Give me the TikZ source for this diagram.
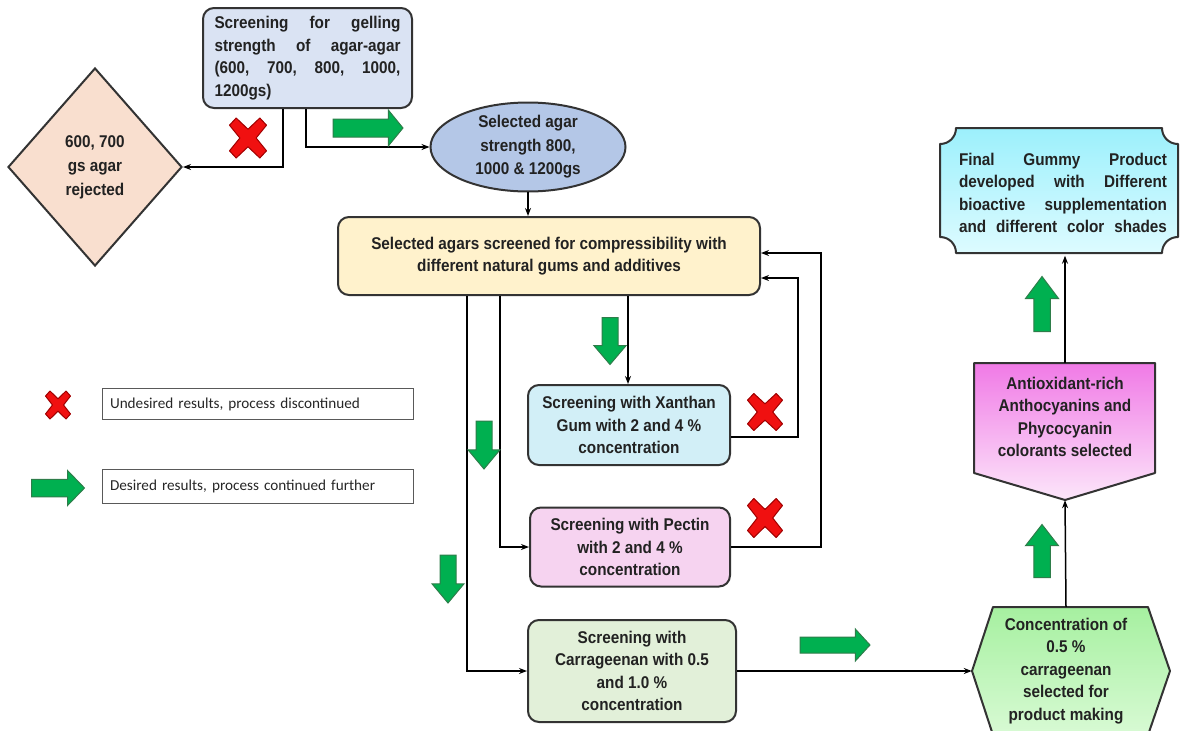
\documentclass[tikz,border=0pt]{standalone}
\usepackage{fontspec}
\setmainfont{Liberation Sans}
\newfontfamily\nar[FakeStretch=0.9]{Liberation Sans}
\newfontfamily\legfont{Carlito}
\usetikzlibrary{shapes.geometric,arrows.meta,calc}

\definecolor{bord}{HTML}{333333}
\definecolor{txt}{HTML}{222222}
\definecolor{topblue}{HTML}{DAE3F3}
\definecolor{peach}{HTML}{F9DFCF}
\definecolor{ellblue}{HTML}{B4C7E7}
\definecolor{cream}{HTML}{FFF2CC}
\definecolor{xanth}{HTML}{D2EFF7}
\definecolor{pect}{HTML}{F6D3F0}
\definecolor{carr}{HTML}{E2F0D9}
\definecolor{ggreen}{HTML}{00B050}
\definecolor{gdark}{HTML}{2E7D4A}
\definecolor{xred}{HTML}{F01010}
\definecolor{xdark}{HTML}{A00000}
\definecolor{finA}{HTML}{9CF0FC}
\definecolor{finB}{HTML}{DDFBFF}
\definecolor{penA}{HTML}{F07AE6}
\definecolor{penB}{HTML}{FCE6FA}
\definecolor{hexA}{HTML}{A6F0A0}
\definecolor{hexB}{HTML}{D8FAD4}

\tikzset{
  bfont/.style={font=\nar\bfseries\fontsize{17}{22.5}\selectfont, text=txt},
  box/.style={bfont, draw=bord, line width=2pt, rounded corners=11pt, align=center, inner sep=0pt},
  conn/.style={line width=1.5pt, -{Stealth[length=8pt,width=6pt]}},
  shp/.style={draw=bord, line width=2pt, line join=round},
  legbox/.style={draw=black!65, line width=1pt, minimum width=311pt, inner sep=0pt,
     font=\legfont\fontsize{15.2}{17}\selectfont, text=black!85, text width=295pt, align=left},
  pics/garr/.style={code={\draw[fill=ggreen, draw=gdark, line width=1pt]
     (-.5,-.25) -- (#1,-.25) -- (#1,-.5) -- (.5,0) -- (#1,.5) -- (#1,.25) -- (-.5,.25) -- cycle;}},
  pics/redx/.style={code={\draw[fill=xred, draw=xdark, line width=1pt, line join=round]
     (-.5,-.32) -- (-.32,-.5) -- (0,-.22) -- (.32,-.5) -- (.5,-.32) -- (.22,0) -- (.5,.32) -- (.32,.5)
     -- (0,.22) -- (-.32,.5) -- (-.5,.32) -- (-.22,0) -- cycle;}},
}

\begin{document}
\begin{tikzpicture}[x=1pt,y=-1pt]
\useasboundingbox (0,0) rectangle (1184,731);
\clip (0,0) rectangle (1184,731);

% ---- special shapes ----
\draw[shp, top color=finA, bottom color=finB]
  (956,128) -- (1162,128) .. controls (1162,137) and (1169,144) .. (1178,144)
  -- (1178,237) .. controls (1169,237) and (1162,244) .. (1162,253)
  -- (956,253) .. controls (956,244) and (949,237) .. (940,237)
  -- (940,144) .. controls (949,144) and (956,137) .. (956,128) -- cycle;
\draw[shp, top color=penA, bottom color=penB]
  (974,363) -- (1155,363) -- (1155,473) -- (1065,500) -- (974,473) -- cycle;
\draw[shp, top color=hexA, bottom color=hexB]
  (972,671) -- (993,607) -- (1148,607) -- (1170,671) -- (1148,735) -- (993,735) -- cycle;

% ---- nodes ----
\node[box, fill=topblue, minimum width=209pt, minimum height=100pt, align=left] (top) at (307.5,58)
  {\makebox[186pt][s]{Screening for gelling}\\
   \makebox[186pt][s]{strength of agar-agar}\\
   \makebox[186pt][s]{(600, 700, 800, 1000,}\\
   1200gs)};
\node[bfont, draw=bord, line width=2pt, shape=diamond, fill=peach, minimum width=174pt,
      minimum height=198pt, align=center, inner sep=0pt, font=\nar\bfseries\fontsize{17}{24}\selectfont]
  (dia) at (95,167) {\raisebox{-5pt}{600, 700}\\\raisebox{-5pt}{gs agar}\\\raisebox{-5pt}{rejected}};
\node[bfont, draw=bord, line width=2pt, shape=ellipse, fill=ellblue, minimum width=195pt,
      minimum height=88pt, align=center, inner sep=0pt, font=\nar\bfseries\fontsize{17}{23.5}\selectfont]
  (ell) at (528,147) {\raisebox{-3pt}{Selected agar}\\\raisebox{-3pt}{strength 800,}\\\raisebox{-3pt}{1000 \& 1200gs}};
\node[box, fill=cream, minimum width=422pt, minimum height=78pt] (big) at (549,256)
  {Selected agars screened for compressibility with\\different natural gums and additives};
\node[box, fill=xanth, minimum width=202pt, minimum height=80pt] (xan) at (629,425)
  {Screening with Xanthan\\Gum with 2 and 4 \%\\concentration};
\node[box, fill=pect, minimum width=200pt, minimum height=79pt] (pec) at (630,547)
  {Screening with Pectin\\with 2 and 4 \%\\concentration};
\node[box, fill=carr, minimum width=208pt, minimum height=102pt] (car) at (632,671)
  {Screening with\\Carrageenan with 0.5\\and 1.0 \%\\concentration};
\node[bfont, align=center, minimum width=188pt, minimum height=128pt, inner sep=0pt] (hex) at (1066,671)
  {Concentration of\\0.5 \%\\carrageenan\\selected for\\product making};
\node[bfont, align=center, minimum width=181pt, minimum height=108pt, inner sep=0pt] (pent) at (1065,417)
  {Antioxidant-rich\\Anthocyanins and\\Phycocyanin\\colorants selected};
\coordinate (pentpt) at ($(pent.south)+(0,29)$);
\node[bfont, align=left, minimum width=238pt, minimum height=125pt, inner sep=0pt] (fin) at (1063,193)
  {\raisebox{-3pt}{\makebox[208pt][s]{Final Gummy Product}}\\
   \raisebox{-3pt}{\makebox[208pt][s]{developed with Different}}\\
   \raisebox{-3pt}{\makebox[208pt][s]{bioactive supplementation}}\\
   \raisebox{-3pt}{\makebox[208pt][s]{and different color shades}}};

\node[legbox, minimum height=31pt] (leg1) at (257.5,404) {Undesired results, process discontinued};
\node[legbox, minimum height=34pt] (leg2) at (257.5,486) {Desired results, process continued further};

% ---- connectors ----
\coordinate (t1) at ($(top.south)+(-24.5,0)$);
\coordinate (t2) at ($(top.south)+(-1.5,0)$);
\coordinate (bx) at ($(big.south)+(79,0)$);
\coordinate (bp) at ($(big.south)+(-49,0)$);
\coordinate (bc) at ($(big.south)+(-82,0)$);
\coordinate (xr) at ($(xan.east)+(0,12)$);
\draw[conn] (t1) |- (dia.east);
\draw[conn] (t2) |- (ell.west);
\draw[conn] (ell.south) -- (ell.south |- big.north);
\draw[conn] (bx) -- (bx |- xan.north);
\draw[conn] (xr) -- ++(67,0) |- ($(big.east)+(0,22)$);
\draw[conn] (bp) |- (pec.west);
\draw[conn] (pec.east) -- ++(90,0) |- ($(big.east)+(0,-3)$);
\draw[conn] (bc) |- (car.west);
\draw[conn] (car.east) -- (car.east -| hex.west);
\draw[conn] (hex.north) -- (pentpt);
\draw[conn] (pent.north) -- (pent.north |- fin.south);

% ---- green arrows ----
\pic[xscale=70, yscale=36] at (368,128) {garr=0.29};
\pic[rotate=-90, xscale=47, yscale=32] at (610,341) {garr=0.1};
\pic[rotate=-90, xscale=48, yscale=32] at (484,445) {garr=0.1};
\pic[rotate=-90, xscale=48, yscale=32] at (448,579) {garr=0.1};
\pic[xscale=70, yscale=32] at (835,645) {garr=0.29};
\pic[rotate=90, xscale=53, yscale=33] at (1042,551) {garr=0.1};
\pic[rotate=90, xscale=55, yscale=33] at (1042,304) {garr=0.1};
\pic[xscale=53, yscale=35] at (58,488) {garr=0.18};

% ---- red crosses ----
\pic[xscale=37, yscale=40] at (248,138) {redx};
\pic[xscale=35, yscale=37] at (765,412) {redx};
\pic[xscale=35, yscale=39] at (765,518) {redx};
\pic[xscale=25, yscale=28] at (58,405) {redx};
\end{tikzpicture}
\end{document}
